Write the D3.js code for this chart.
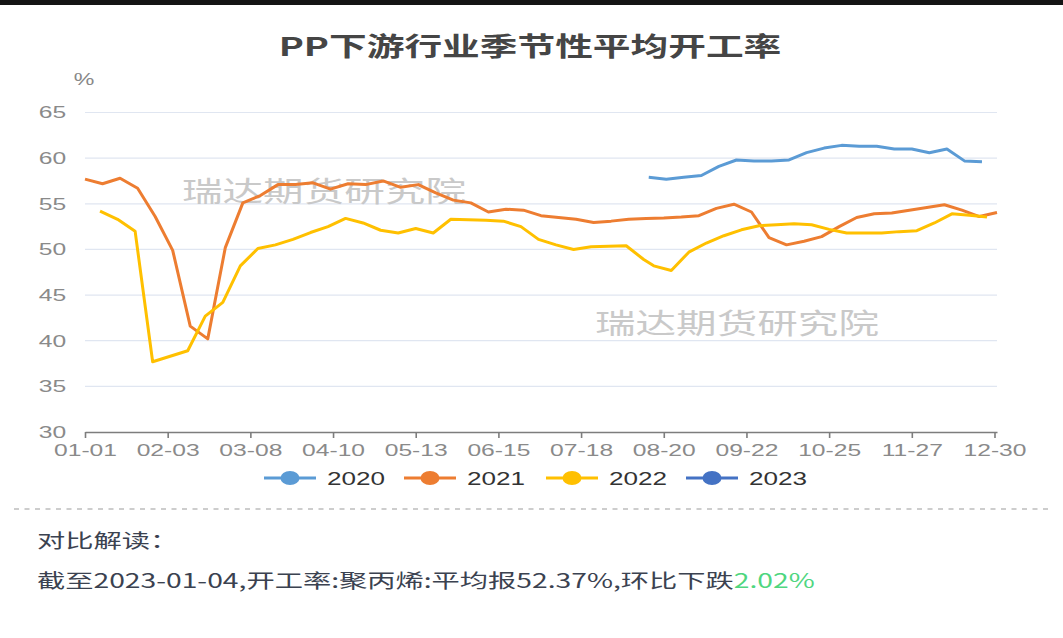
<!DOCTYPE html>
<html>
<head>
<meta charset="utf-8" />
<title>PP下游行业季节性平均开工率</title>
<script src="https://cdn.jsdelivr.net/npm/d3@7"></script>
<style>
  body { margin: 0; background: #fff; }
  svg { display: block; }
</style>
</head>
<body>
<script>

// ---- data ----
var years = ["2020", "2021", "2022", "2023"];
var colors = ["#5B9BD5", "#ED7D31", "#FFC000", "#4472C4"];
var tickLabels = ["01-01", "02-03", "03-08", "04-10", "05-13", "06-15", "07-18", "08-20", "09-22", "10-25", "11-27", "12-30"];
var yTicks = [30, 35, 40, 45, 50, 55, 60, 65];

// weekly report dates (MM-DD) per year
function weekly(start, n) {
  var p = d3.timeParse("%m-%d"), f = d3.timeFormat("%m-%d");
  var d0 = p(start);
  return d3.range(n).map(function(i){ return f(d3.timeDay.offset(d0, i * 7)); });
}
var dates2020 = weekly("08-14", 20);
var dates2021 = weekly("01-01", 53);
var dates2022 = weekly("01-07", 32).concat(weekly("08-16", 20));
var dates2023 = ["01-04"];

var values2020 = [57.9, 57.7, 57.9, 58.1, 59.1, 59.8, 59.7, 59.7, 59.8, 60.6,
                  61.1, 61.4, 61.3, 61.3, 61.0, 61.0, 60.6, 61.0, 59.7, 59.6];
var values2021 = [57.7, 57.2, 57.8, 56.7, 53.6, 49.9, 41.6, 40.2, 50.2, 55.1,
                  55.9, 57.1, 57.1, 57.3, 56.6, 57.2, 57.1, 57.5, 56.8, 57.1,
                  56.2, 55.4, 55.1, 54.1, 54.4, 54.3, 53.7, 53.5, 53.3, 52.95,
                  53.1, 53.3, 53.4, 53.45, 53.55, 53.7, 54.5, 54.95, 54.1, 51.3,
                  50.5, 50.9, 51.4, 52.5, 53.5, 53.9, 54.0, 54.3, 54.6, 54.9,
                  54.3, 53.6, 54.05];
var values2022 = [54.2, 53.3, 52.0, 37.7, 38.3, 38.9, 42.7, 44.2, 48.2, 50.1,
                  50.5, 51.1, 51.85, 52.5, 53.4, 52.9, 52.1, 51.8, 52.3, 51.8,
                  53.3, 53.25, 53.2, 53.1, 52.5, 51.1, 50.5, 50.0, 50.3, 50.35,
                  50.4, 48.9, 48.2, 47.7, 49.7, 50.7, 51.5, 52.15, 52.6, 52.7,
                  52.8, 52.7, 52.2, 51.8, 51.8, 51.8, 51.95, 52.05, 52.9, 53.9,
                  53.75, 53.55];
var values2023 = [52.37];

var seriesDates = [dates2020, dates2021, dates2022, dates2023];
var seriesValues = [values2020, values2021, values2022, values2023];

// ---- layout ----
var W = 1063, H = 638;
var SX = 1.45;   // the picture is stretched sideways, text follows it
var plotLeft = 85, plotRight = 997, plotTop = 112.5, plotBottom = 432;

var parseMD = d3.timeParse("%m-%d");
function dayOf(md) {
  var d = parseMD(md);
  return d3.timeDay.count(d3.timeYear(d), d);
}

var svg = d3.select("body").append("svg")
  .attr("width", W)
  .attr("height", H);

svg.append("rect").attr("width", W).attr("height", H).attr("fill", "#fff");
svg.append("rect").attr("x", 0).attr("y", 0).attr("width", W).attr("height", 5).attr("fill", "#141414");

var x = d3.scaleLinear().domain([0, 364]).range([plotLeft, plotRight]);
var y = d3.scaleLinear().domain([30, 65]).range([plotBottom, plotTop]);

function stretchText(sel, px, py) {
  return sel.attr("transform", "translate(" + px + "," + py + ") scale(" + SX + ",1)");
}

// title
stretchText(svg.append("text"), 530, 56)
  .attr("text-anchor", "middle")
  .attr("font-family", "'Noto Sans CJK SC', sans-serif")
  .attr("font-weight", "bold")
  .attr("font-size", "26px")
  .attr("fill", "#454545")
  .text("PP下游行业季节性平均开工率");

// unit
stretchText(svg.append("text"), 84, 85)
  .attr("text-anchor", "middle")
  .attr("font-family", "'Liberation Sans', sans-serif")
  .attr("font-size", "16px")
  .attr("fill", "#888")
  .text("%");

// grid lines
svg.append("g").selectAll("line")
  .data(yTicks.filter(function(d){ return d > 30; }))
  .enter().append("line")
  .attr("x1", plotLeft).attr("x2", plotRight)
  .attr("y1", function(d){ return y(d); })
  .attr("y2", function(d){ return y(d); })
  .attr("stroke", "#E0E6F1")
  .attr("stroke-width", 1.2);

// y labels
var yAxis = svg.append("g")
  .attr("transform", "translate(" + plotLeft + ",0)")
  .call(d3.axisLeft(y).tickValues(yTicks).tickSize(0).tickPadding(13));
yAxis.select(".domain").remove();
yAxis.selectAll("text")
  .attr("transform", "scale(" + SX + ",1)")
  .attr("font-family", "'Liberation Sans', sans-serif")
  .attr("font-size", "17px")
  .attr("fill", "#8a8a8a");

// watermarks
[[324, 202], [737, 334]].forEach(function(p) {
  stretchText(svg.append("text"), p[0], p[1])
    .attr("text-anchor", "middle")
    .attr("font-family", "'Noto Sans CJK SC', sans-serif")
    .attr("font-size", "28px")
    .attr("fill", "#c4c4c4")
    .attr("opacity", 0.9)
    .text("瑞达期货研究院");
});

// x axis
var xAxis = svg.append("g")
  .attr("transform", "translate(0," + plotBottom + ")")
  .call(d3.axisBottom(x)
    .tickValues(tickLabels.map(dayOf))
    .tickFormat(function(d, i){ return tickLabels[i]; })
    .tickSize(6)
    .tickSizeOuter(0)
    .tickPadding(6));
xAxis.select(".domain").attr("stroke", "#7d7d7d").attr("stroke-width", 1.6);
xAxis.selectAll(".tick line").attr("stroke", "#7d7d7d").attr("stroke-width", 1.6);
xAxis.selectAll("text")
  .attr("transform", "scale(" + SX + ",1)")
  .attr("font-family", "'Liberation Sans', sans-serif")
  .attr("font-size", "17px")
  .attr("fill", "#8a8a8a");

// lines
var line = d3.line()
  .x(function(d){ return x(d.day); })
  .y(function(d){ return y(d.value); });

svg.append("g").selectAll("path")
  .data(years.map(function(yr, k) {
    return seriesValues[k].map(function(v, i){ return { day: dayOf(seriesDates[k][i]), value: v }; });
  }))
  .enter().append("path")
  .attr("d", line)
  .attr("fill", "none")
  .attr("stroke", function(d, k){ return colors[k]; })
  .attr("stroke-width", 3)
  .attr("stroke-linejoin", "round");

// legend
var legendX = [290, 430, 572, 712];
var legend = svg.append("g").selectAll("g")
  .data(years)
  .enter().append("g")
  .attr("transform", function(d, i){ return "translate(" + legendX[i] + ",478)"; });
legend.append("line")
  .attr("x1", -26).attr("x2", 26)
  .attr("stroke", function(d, i){ return colors[i]; })
  .attr("stroke-width", 3);
legend.append("ellipse")
  .attr("rx", 9.5).attr("ry", 7)
  .attr("fill", function(d, i){ return colors[i]; });
legend.append("text")
  .attr("transform", "translate(37,7) scale(" + SX + ",1)")
  .attr("font-family", "'Liberation Sans', sans-serif")
  .attr("font-size", "18px")
  .attr("fill", "#333")
  .text(function(d){ return d; });

// separator
svg.append("line")
  .attr("x1", 14).attr("x2", 1052)
  .attr("y1", 509).attr("y2", 509)
  .attr("stroke", "#bdbdbd")
  .attr("stroke-width", 1.3)
  .attr("stroke-dasharray", "5,5.5");

// comment text
stretchText(svg.append("text"), 37, 548)
  .attr("font-family", "'Noto Sans CJK SC', sans-serif")
  .attr("font-size", "19.5px")
  .attr("fill", "#3b4250")
  .text("对比解读：");

var note = stretchText(svg.append("text"), 37, 588)
  .attr("font-family", "'Noto Sans CJK SC', sans-serif")
  .attr("font-size", "19.5px")
  .attr("fill", "#3b4250");
note.append("tspan").text("截至2023-01-04,开工率:聚丙烯:平均报52.37%,环比下跌");
note.append("tspan").attr("fill", "#4fd67f").text("2.02%");

</script>
</body>
</html>
